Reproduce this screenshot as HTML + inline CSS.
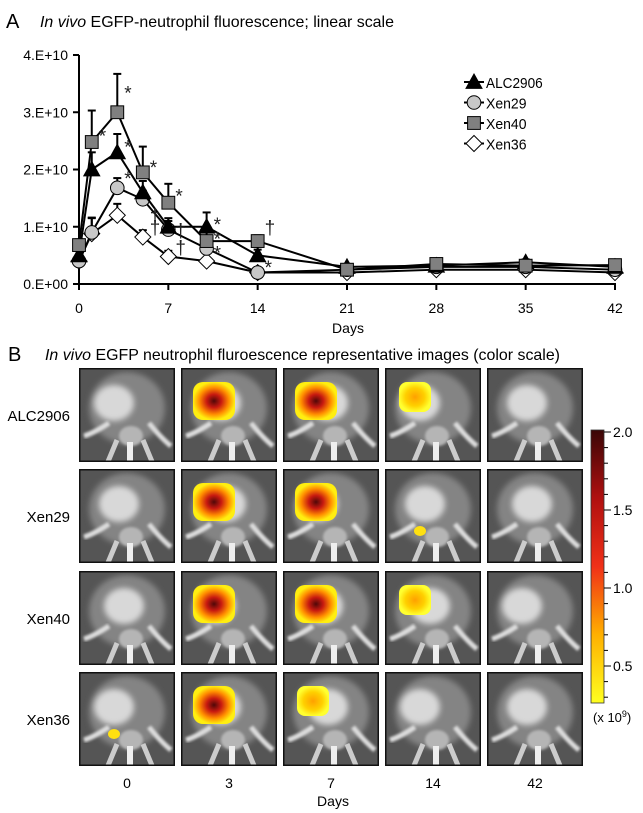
<!DOCTYPE html>
<html><head><meta charset="utf-8"><style>
html,body{margin:0;padding:0;background:#fff;}
svg{display:block;font-family:"Liberation Sans",Arial,sans-serif;}
</style></head><body>
<svg id="fig" width="643" height="813" viewBox="0 0 643 813">
<defs>
<linearGradient id="cbar" x1="0" y1="1" x2="0" y2="0">
<stop offset="0" stop-color="#ffff20"/><stop offset="0.25" stop-color="#ffb000"/>
<stop offset="0.5" stop-color="#f03018"/><stop offset="0.75" stop-color="#b01010"/><stop offset="1" stop-color="#3a0606"/>
</linearGradient>
<filter id="bl" x="-20%" y="-20%" width="140%" height="140%"><feGaussianBlur stdDeviation="3"/></filter>
<filter id="bl2" x="-20%" y="-20%" width="140%" height="140%"><feGaussianBlur stdDeviation="1.2"/></filter>
<radialGradient id="heat"><stop offset="0" stop-color="#500808"/><stop offset="0.35" stop-color="#c81a10"/><stop offset="0.7" stop-color="#ff8c00"/><stop offset="1" stop-color="#ffee10"/></radialGradient>
<radialGradient id="heatLow"><stop offset="0" stop-color="#ffa000"/><stop offset="0.6" stop-color="#ffd000"/><stop offset="1" stop-color="#ffff30"/></radialGradient>
</defs>
<text x="6" y="28" font-size="20">A</text>
<text x="40" y="27" font-size="16" textLength="354" lengthAdjust="spacingAndGlyphs"><tspan font-style="italic">In vivo</tspan> EGFP-neutrophil fluorescence; linear scale</text>
<g id="chart"></g>
<text x="8" y="361" font-size="20">B</text>
<text x="45" y="360" font-size="16" textLength="515" lengthAdjust="spacingAndGlyphs"><tspan font-style="italic">In vivo</tspan> EGFP neutrophil fluroescence representative images (color scale)</text>
<g id="grid"></g>
<g id="cb"></g>
</svg>
<script>
// ---- chart data ----
const days = [0,1,3,5,7,10,14,21,28,35,42];
const seriesNames = ["ALC2906","Xen29","Xen40","Xen36"];
const alc = [0.5,2.0,2.3,1.6,1.0,1.0,0.5,0.3,0.32,0.38,0.3];
const xen29 = [0.4,0.9,1.68,1.48,0.95,0.62,0.2,0.25,0.3,0.3,0.25];
const xen40 = [0.68,2.48,3.0,1.95,1.42,0.75,0.75,0.25,0.35,0.32,0.33];
const xen36 = [0.4,0.88,1.2,0.82,0.48,0.4,0.2,0.2,0.25,0.25,0.2];
const alcErr = [0.1,0.3,0.32,0.2,0.15,0.25,0.1,0.05,0.05,0.05,0.05];
const xen29Err = [0.05,0.25,0.17,0.15,0.15,0.1,0.05,0.05,0.05,0.05,0.05];
const xen40Err = [0.1,0.55,0.67,0.45,0.33,0.15,0.1,0.05,0.05,0.05,0.05];
const xen36Err = [0.05,0.28,0.2,0.12,0.1,0.05,0.03,0.03,0.03,0.03,0.03];
const yTicks = [0,1,2,3,4];
const yTickLabels = ["0.E+00","1.E+10","2.E+10","3.E+10","4.E+10"];
const xTicks = [0,7,14,21,28,35,42];
const marks = [["*",1,2.65],["*",3,3.4],["*",3,2.45],["*",5,2.1],["*",7,1.6],["*",10,1.1],["*",14,0.35],["*",3,1.9],["†",5,1.25],["†",7,1.0],["†",7,0.7],["*",10,0.85],["*",10,0.6],["†",14,1.05],["†",5,1.05]];

const NS="http://www.w3.org/2000/svg";
function mk(tag,attrs,parent){const e=document.createElementNS(NS,tag);for(const k in attrs)e.setAttribute(k,attrs[k]);parent.appendChild(e);return e;}
const X0=79,X1=615,Y0=284,Y1=55;
const xs=d=>X0+(X1-X0)*d/42;
const ys=v=>Y0-(Y0-Y1)*v/4;
const ch=document.getElementById('chart');
let ax=mk('line',{x1:X0,y1:Y1,x2:X0,y2:Y0+1,stroke:'#000','stroke-width':2},ch);


let ax2=mk('line',{x1:X0-1,y1:Y0,x2:X1+1,y2:Y0,stroke:'#000','stroke-width':2},ch);


yTicks.forEach((v,i)=>{
  mk('line',{x1:X0-6,y1:ys(v),x2:X0,y2:ys(v),stroke:'#000','stroke-width':2},ch);
  const t=mk('text',{x:X0-11,y:ys(v)+5,'font-size':14,'text-anchor':'end'},ch);
  t.textContent=yTickLabels[i];
  
  
});
xTicks.forEach(d=>{
  mk('line',{x1:xs(d),y1:Y0,x2:xs(d),y2:Y0+6,stroke:'#000','stroke-width':2},ch);
  const t=mk('text',{x:xs(d),y:Y0+29,'font-size':14,'text-anchor':'middle'},ch);
  t.textContent=d;
  
  
});
const xl=mk('text',{x:348,y:333,'font-size':14,'text-anchor':'middle'},ch);xl.textContent='Days';



const allSeries=[alc,xen29,xen40,xen36];
const allErr=[alcErr,xen29Err,xen40Err,xen36Err];
const fills=['#000','#c8c8c8','#808080','#fff'];
const shapes=['tri','circ','sq','dia'];
function marker(shape,x,y,fill,p,s){
  let e;
  if(shape==='tri') e=mk('path',{d:`M${x},${y-s} L${x+s},${y+s*0.8} L${x-s},${y+s*0.8}Z`,fill,stroke:'#000','stroke-width':1},p);
  else if(shape==='circ') e=mk('circle',{cx:x,cy:y,r:s*0.85,fill,stroke:'#000','stroke-width':1},p);
  else if(shape==='sq') e=mk('rect',{x:x-s*0.8,y:y-s*0.8,width:s*1.6,height:s*1.6,fill,stroke:'#000','stroke-width':1},p);
  else e=mk('path',{d:`M${x},${y-s} L${x+s},${y} L${x},${y+s} L${x-s},${y}Z`,fill,stroke:'#000','stroke-width':1},p);
  return e;
}
const drawOrder=[3,1,0,2];
drawOrder.forEach(si=>{
  const g=mk('g',{},ch);
  
  
  allSeries[si].forEach((v,i)=>{
    const x=xs(days[i]),yt=ys(v+allErr[si][i]);
    mk('line',{x1:x,y1:ys(v),x2:x,y2:yt,stroke:'#000','stroke-width':2},g);
    mk('line',{x1:x-4,y1:yt,x2:x+4,y2:yt,stroke:'#000','stroke-width':2},g);
  });
});
drawOrder.forEach(si=>{
  const g=mk('g',{},ch);
  
  
  const pts=allSeries[si].map((v,i)=>xs(days[i])+','+ys(v)).join(' ');
  mk('polyline',{points:pts,fill:'none',stroke:'#000','stroke-width':2},g);
  allSeries[si].forEach((v,i)=>{
    const m=marker(shapes[si],xs(days[i]),ys(v),fills[si],g,8);
    
    
  });
});
marks.forEach(m=>{
  const t=mk('text',{x:xs(m[1])+7,y:ys(m[2])+10,'font-size':19,fill:'#222'},ch);
  t.textContent=m[0];
  
  
});
const lg=mk('g',{},ch);


seriesNames.forEach((n,i)=>{
  const y=82+i*20.5;
  const e=mk('g',{},lg);
  
  
  mk('line',{x1:464,y1:y,x2:484,y2:y,stroke:'#000','stroke-width':2},e);
  marker(shapes[i],474,y,fills[i],e,8);
  const t=mk('text',{x:486,y:y+6,'font-size':15,textLength:n.length*8.1,lengthAdjust:'spacingAndGlyphs'},e);
  t.textContent=n;
});

// ---- image grid ----
const rowNames=["ALC2906","Xen29","Xen40","Xen36"];
const colDays=["0","3","7","14","42"];
const heatLevel=[[0,2,2,1,0],[0,2,2,0.5,0],[0,2,2,1,0],[0.3,2,1,0,0]];
const grid=document.getElementById('grid');
const PX=[79,181,283,385,487],PY=[368,469,571,672],PW=96,PH=94;
rowNames.forEach((rn,r)=>{
  const t=mk('text',{x:70,y:PY[r]+53,'font-size':15,'text-anchor':'end'},grid);
  t.textContent=rn;
  
  
  colDays.forEach((cd,c)=>{
    const x=PX[c],y=PY[r];
    const g=mk('g',{},grid);
    
    
    mk('rect',{x,y,width:PW,height:PH,fill:'#555'},g);
    const cp='cp'+r+c;
    const clip=mk('clipPath',{id:cp},g);mk('rect',{x,y,width:PW,height:PH},clip);
    const b=mk('g',{'clip-path':`url(#${cp})`},g);
    mk('ellipse',{cx:x+48,cy:y+40,rx:38,ry:36,fill:'#848484',filter:'url(#bl)'},b);
    mk('ellipse',{cx:x+35+((r+c)%3)*5,cy:y+35,rx:20,ry:18,fill:'#d8d8d8',filter:'url(#bl)'},b);
    mk('ellipse',{cx:x+52,cy:y+68,rx:12,ry:10,fill:'#b5b5b5',filter:'url(#bl2)'},b);
    mk('rect',{x:x+48,y:y+74,width:6,height:22,fill:'#eee'},b);
    mk('path',{d:`M${x+30},${y+55} Q${x+15},${y+65} ${x+5},${y+68}`,stroke:'#ddd','stroke-width':5,fill:'none',filter:'url(#bl2)'},b);
    mk('path',{d:`M${x+70},${y+55} Q${x+82},${y+70} ${x+92},${y+78}`,stroke:'#ddd','stroke-width':5,fill:'none',filter:'url(#bl2)'},b);
    mk('path',{d:`M${x+38},${y+72} L${x+28},${y+96}`,stroke:'#ccc','stroke-width':5,fill:'none'},b);
    mk('path',{d:`M${x+64},${y+72} L${x+74},${y+96}`,stroke:'#ccc','stroke-width':5,fill:'none'},b);
    const h=heatLevel[r][c];
    if(h>=2){
      mk('rect',{x:x+12,y:y+14,width:42,height:38,rx:10,fill:'url(#heat)'},b);
    }else if(h>=1){
      mk('rect',{x:x+14,y:y+14,width:32,height:30,rx:8,fill:'url(#heatLow)'},b);
    }else if(h>0){
      mk('ellipse',{cx:x+35,cy:y+62,rx:6,ry:5,fill:'#ffe010'},b);
    }
    mk('rect',{x:x+0.75,y:y+0.75,width:PW-1.5,height:PH-1.5,fill:'none',stroke:'#111','stroke-width':1.5},g);
    if(r===3){
      const tl=mk('text',{x:x+PW/2,y:788,'font-size':14,'text-anchor':'middle'},grid);
      tl.textContent=cd;
      
      
    }
  });
});
const dl=mk('text',{x:333,y:806,'font-size':14,'text-anchor':'middle'},grid);dl.textContent='Days';



// ---- color bar ----
const cbVals=[0.5,1.0,1.5,2.0];
const cb=document.getElementById('cb');
const CB0=703,cbY=v=>666-(v-0.5)*156;
mk('rect',{x:591,y:cbY(2.0)-2,width:13,height:CB0-cbY(2.0)+2,fill:'url(#cbar)',stroke:'#333','stroke-width':0.8},cb);
for(let k=3;k<=20;k++){const v=k/10;mk('line',{x1:604,y1:cbY(v),x2:608,y2:cbY(v),stroke:'#000','stroke-width':1},cb);}
cbVals.forEach(v=>{
  mk('line',{x1:604,y1:cbY(v),x2:611,y2:cbY(v),stroke:'#000','stroke-width':1},cb);
  const t=mk('text',{x:613,y:cbY(v)+5,'font-size':14},cb);
  t.textContent=v.toFixed(1);
  
  
});
const u=mk('text',{x:593,y:722,'font-size':13},cb);
u.innerHTML='(x 10<tspan dy="-5" font-size="9">9</tspan><tspan dy="5">)</tspan>';


</script>
</body></html>
